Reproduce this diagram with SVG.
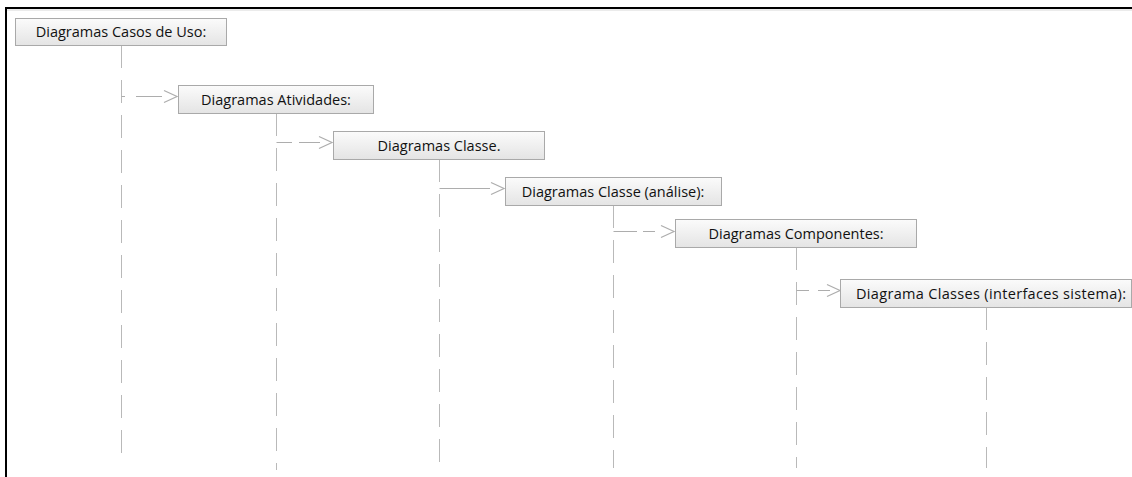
<svg xmlns="http://www.w3.org/2000/svg" width="1132" height="477" viewBox="0 0 1132 477">
  <defs>
    <linearGradient id="boxFill" x1="0" y1="0" x2="0" y2="1">
      <stop offset="0" stop-color="#fbfbfb"/>
      <stop offset="1" stop-color="#e4e4e4"/>
    </linearGradient>
    <style>
      .box { fill: url(#boxFill); stroke: #a9a9a9; stroke-width: 1; }
      .label { font-family: "Open Sans", "Noto Sans", "DejaVu Sans", sans-serif; font-size: 14.5px; fill: #111111; text-anchor: middle; }
      .life { stroke: #b9b9b9; stroke-width: 1; fill: none; stroke-dasharray: 23 12; }
      .msg { stroke: #adadad; stroke-width: 1; fill: none; }
      .head { stroke: #adadad; stroke-width: 1.2; fill: none; stroke-linejoin: miter; }
    </style>
  </defs>

  <rect width="1132" height="477" fill="#ffffff"/>

  <!-- frame -->
  <g id="frame">
    <line x1="5" y1="8" x2="1132" y2="8" stroke="#000" stroke-width="2"/>
    <line x1="6" y1="7" x2="6" y2="477" stroke="#000" stroke-width="2"/>
    <line x1="7" y1="10" x2="1132" y2="10" stroke="#d8d8d8" stroke-width="1"/>
  </g>

  <!-- lifelines and calls -->
  <g id="connectors">
    <line class="life" x1="121.5" y1="45" x2="121.5" y2="462"/>
    <line class="life" x1="276.5" y1="113" x2="276.5" y2="470"/>
    <line class="life" x1="439.5" y1="159" x2="439.5" y2="468"/>
    <line class="life" x1="613.5" y1="205" x2="613.5" y2="468"/>
    <line class="life" x1="796.5" y1="247" x2="796.5" y2="468"/>
    <line class="life" x1="986.5" y1="307" x2="986.5" y2="468"/>

    <path class="msg" d="M121.5 96.5H125M136 96.5H162"/>
    <path class="head" d="M164 90.5L177 96.5L164 102.5"/>

    <path class="msg" d="M276.5 142.5H292M299 142.5H320"/>
    <path class="head" d="M319 136.5L332 142.5L319 148.5"/>

    <path class="msg" d="M439.5 188.5H490"/>
    <path class="head" d="M491 182.5L504 188.5L491 194.5"/>

    <path class="msg" d="M613.5 231.5H637M643 231.5H655"/>
    <path class="head" d="M661 225.5L674 231.5L661 237.5"/>

    <path class="msg" d="M796.5 290.5H809M818 290.5H830"/>
    <path class="head" d="M827 284.5L840 290.5L827 296.5"/>
  </g>

  <g id="n1">
    <rect class="box" x="15.5" y="18.5" width="211" height="27"/>
    <text class="label" x="121" y="37">Diagramas Casos de Uso:</text>
  </g>
  <g id="n2">
    <rect class="box" x="178.5" y="85.5" width="195" height="28"/>
    <text class="label" x="276" y="104.5">Diagramas Atividades:</text>
  </g>
  <g id="n3">
    <rect class="box" x="333.5" y="131.5" width="211" height="28"/>
    <text class="label" x="439" y="150.5">Diagramas Classe.</text>
  </g>
  <g id="n4">
    <rect class="box" x="505.5" y="177.5" width="216" height="28"/>
    <text class="label" x="613" y="196.5">Diagramas Classe (análise):</text>
  </g>
  <g id="n5">
    <rect class="box" x="675.5" y="219.5" width="241" height="28"/>
    <text class="label" x="796" y="238.5">Diagramas Componentes:</text>
  </g>
  <g id="n6">
    <rect class="box" x="840.5" y="279.5" width="291" height="28"/>
    <text class="label" x="991" y="298.5" textLength="270" lengthAdjust="spacing">Diagrama Classes (interfaces sistema):</text>
  </g>
</svg>
